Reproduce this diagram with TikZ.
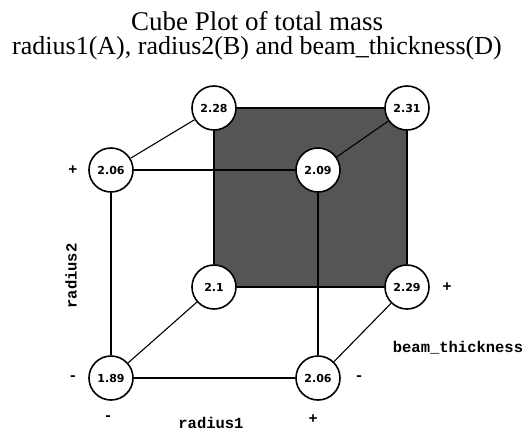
\documentclass[tikz,border=0pt]{standalone}
\usepackage{fontspec}
\setmainfont{Liberation Serif}
\newfontfamily\labelfont{Liberation Mono}
\newfontfamily\valuefont{DejaVu Sans}
\usetikzlibrary{backgrounds}
\definecolor{cubegray}{RGB}{85, 85, 85}

\begin{document}
\begin{tikzpicture}[x=1pt, y=-1pt,
    corner/.style={circle, draw, line width=1.6pt, fill=white, minimum size=44pt, inner sep=0pt,
        font=\valuefont\bfseries\fontsize{11}{11}\selectfont},
    edge/.style={line width=1.6pt},
    slant/.style={line width=1.1pt},
    sign/.style={font=\labelfont\bfseries\fontsize{15}{15}\selectfont},
    axislabel/.style={font=\labelfont\bfseries\fontsize{15.5}{15.5}\selectfont}]
\useasboundingbox (0,0) rectangle (528,432);

% Titles
\node[font=\fontsize{27}{27}\selectfont, anchor=base] (title) at (257,30) {Cube Plot of total mass};
\node[font=\fontsize{26}{26}\selectfont, anchor=base] (subtitle) at (257,54) {radius1(A), radius2(B) and beam\_thickness(D)};

% Corners
\foreach \name/\x/\y/\val in {fbl/111/378/1.89, fbr/318/378/2.06, ftl/111/170/2.06, ftr/318/170/2.09,
                              bbl/214/287/2.1, bbr/407/287/2.29, btl/214/108/2.28, btr/407/108/2.31} {
    \node[corner] (\name) at (\x,\y) {\val};
}

% Back face
\begin{scope}[on background layer]
\fill[cubegray] (btl.center) rectangle (bbr.center);
\end{scope}
\foreach \a/\b in {btl/btr, btl/bbl, bbl/bbr, btr/bbr, ftl/ftr, ftl/fbl, fbl/fbr, ftr/fbr} {
    \draw[edge] (\a) -- (\b);
}
\foreach \a/\b in {ftl/btl, ftr/btr, fbl/bbl, fbr/bbr} {
    \draw[slant] (\a) -- (\b);
}

% Signs
\node[sign] (ptop) at (73,170) {+};
\node[sign] (mbot) at (73,378) {-};
\node[sign] (mleft) at (108,418) {-};
\node[sign] (pright) at (313,419) {+};
\node[sign] (mfront) at (359,378) {-};
\node[sign] (pback) at (447,287) {+};

% Factor names
\node[axislabel, anchor=base] (r1) at (211,428) {radius1};
\node[axislabel, rotate=90] (r2) at (71,276) {radius2};
\node[axislabel] (bt) at (458,348) {beam\_thickness};
\end{tikzpicture}
\end{document}
